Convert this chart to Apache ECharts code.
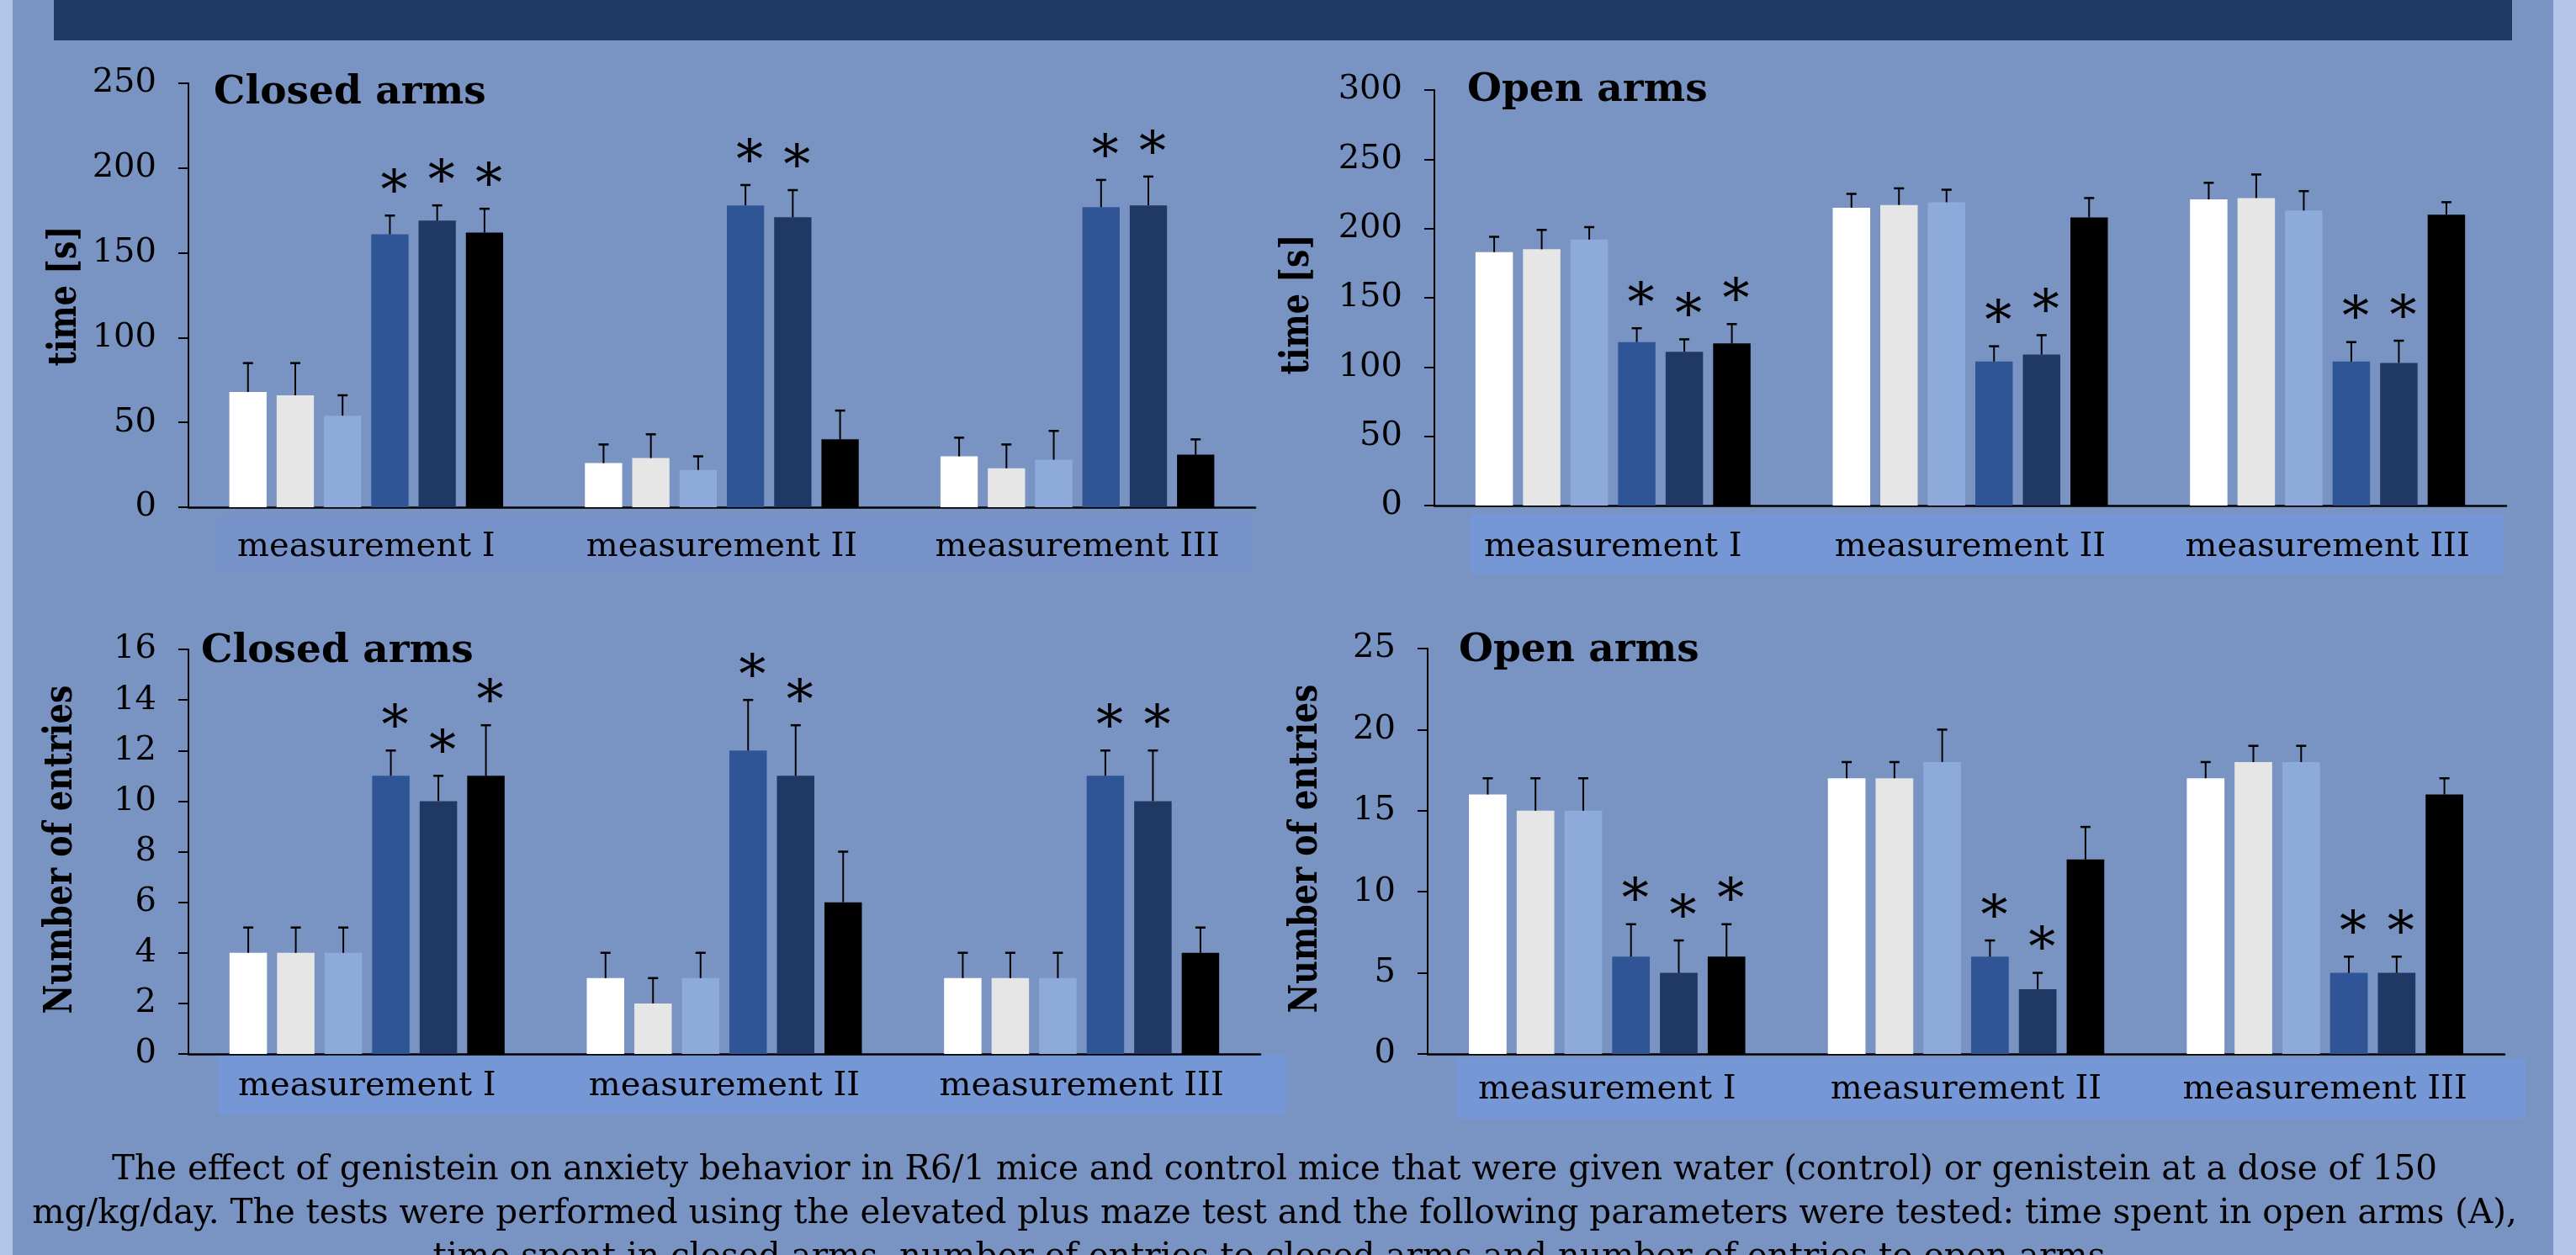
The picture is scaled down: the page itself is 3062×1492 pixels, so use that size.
<!DOCTYPE html>
<html>
<head>
<meta charset="utf-8">
<script src="https://cdn.jsdelivr.net/npm/echarts@6/dist/echarts.min.js"></script>
<style>
  html, body { margin: 0; padding: 0; background: #b4c6e8; }
  #chart { width: 3062px; height: 1492px; }
</style>
</head>
<body>
<div id="chart"></div>
<script>
// Elevated plus maze: six groups per measurement, mean with upward SEM bar.
const categories = ['measurement I', 'measurement II', 'measurement III'];
const groupColors = ['#ffffff', '#e6e6e6', '#8eaadb', '#2f5597', '#203864', '#000000'];

// rows = groups, columns = measurement I, II, III
const closedTimeMean = [[68, 26, 30], [66, 29, 23], [54, 22, 28], [161, 178, 177], [169, 171, 178], [162, 40, 31]];
const closedTimeErr  = [[17, 11, 11], [19, 14, 14], [12, 8, 17], [11, 12, 16], [9, 16, 17], [14, 17, 9]];

const openTimeMean = [[183, 215, 221], [185, 217, 222], [192, 219, 213], [118, 104, 104], [111, 109, 103], [117, 208, 210]];
const openTimeErr  = [[11, 10, 12], [14, 12, 17], [9, 9, 14], [10, 11, 14], [9, 14, 16], [14, 14, 9]];

const closedEntriesMean = [[4, 3, 3], [4, 2, 3], [4, 3, 3], [11, 12, 11], [10, 11, 10], [11, 6, 4]];
const closedEntriesErr  = [[1, 1, 1], [1, 1, 1], [1, 1, 1], [1, 2, 1], [1, 2, 2], [2, 2, 1]];

const openEntriesMean = [[16, 17, 17], [15, 17, 18], [15, 18, 18], [6, 6, 5], [5, 4, 5], [6, 12, 16]];
const openEntriesErr  = [[1, 1, 1], [2, 1, 1], [2, 2, 1], [2, 1, 1], [2, 1, 1], [2, 2, 1]];

// significance marks (1 = asterisk above the bar)
const significance = [[0, 0, 0], [0, 0, 0], [0, 0, 0], [1, 1, 1], [1, 1, 1], [1, 0, 0]];

const yTicksTime = { max: 250, interval: 50 };
const yTicksOpenTime = { max: 300, interval: 50 };
const yTicksClosedEntries = { max: 16, interval: 2 };
const yTicksOpenEntries = { max: 25, interval: 5 };

const captionLines = [
  'The effect of genistein on anxiety behavior in R6/1 mice and control mice that were given water (control) or genistein at a dose of 150',
  'mg/kg/day. The tests were performed using the elevated plus maze test and the following parameters were tested: time spent in open arms (A),',
  'time spent in closed arms, number of entries to closed arms and number of entries to open arms.'
];

const SERIF = '"DejaVu Serif", "Liberation Serif", serif';
const N_GROUPS = 6;
const BAR_GAP = 0.27;
const CAT_GAP = 0.23;

const panels = [
  { title: 'Closed arms', yName: 'time [s]', ticks: yTicksTime, mean: closedTimeMean, err: closedTimeErr,
    grid: { left: 224, top: 99, width: 1268, height: 504 }, titlePos: { left: 254, top: 87 },
    namePos: [78, 352], labelMargin: 28 },
  { title: 'Open arms', yName: 'time [s]', ticks: yTicksOpenTime, mean: openTimeMean, err: openTimeErr,
    grid: { left: 1705, top: 107, width: 1274, height: 494 }, titlePos: { left: 1744, top: 84 },
    namePos: [1543, 362], labelMargin: 30 },
  { title: 'Closed arms', yName: 'Number of entries', ticks: yTicksClosedEntries, mean: closedEntriesMean, err: closedEntriesErr,
    grid: { left: 224, top: 772, width: 1274, height: 481 }, titlePos: { left: 239, top: 751 },
    namePos: [73, 1010], labelMargin: 19 },
  { title: 'Open arms', yName: 'Number of entries', ticks: yTicksOpenEntries, mean: openEntriesMean, err: openEntriesErr,
    grid: { left: 1697, top: 771, width: 1280, height: 482 }, titlePos: { left: 1734, top: 750 },
    namePos: [1553, 1009], labelMargin: 23 }
];

function renderErrorBar(params, api) {
  const cat = api.value(0);
  const mean = api.value(1);
  const err = api.value(2);
  const g = api.value(3);
  const star = api.value(4);
  const band = api.size([1, 0])[0];
  const barW = band * (1 - CAT_GAP) / (N_GROUPS + (N_GROUPS - 1) * BAR_GAP);
  const x = api.coord([cat, 0])[0] + (g - (N_GROUPS - 1) / 2) * barW * (1 + BAR_GAP);
  const yBase = api.coord([cat, mean])[1];
  const yTop = api.coord([cat, mean + err])[1];
  const children = [
    { type: 'line', shape: { x1: x, y1: yBase, x2: x, y2: yTop }, style: { stroke: '#000', lineWidth: 2 } },
    { type: 'line', shape: { x1: x - 6, y1: yTop, x2: x + 6, y2: yTop }, style: { stroke: '#000', lineWidth: 2.5 } }
  ];
  if (star) {
    children.push({
      type: 'text', x: x + 5, y: yTop - 25,
      style: { text: '*', font: '64px ' + SERIF, fill: '#000', align: 'center', verticalAlign: 'middle' }
    });
  }
  return { type: 'group', children };
}

const grids = [], xAxes = [], yAxes = [], series = [], titles = [], axisNames = [];

panels.forEach((p, i) => {
  grids.push(Object.assign({ containLabel: false }, p.grid));
  titles.push({
    text: p.title, left: p.titlePos.left, top: p.titlePos.top, padding: 0,
    textStyle: { fontFamily: SERIF, fontWeight: 'bold', fontSize: 47, color: '#000' }
  });
  xAxes.push({
    gridIndex: i, type: 'category', data: categories,
    axisLine: { lineStyle: { color: '#000', width: 2.5 } },
    axisTick: { inside: true, length: 12, lineStyle: { color: '#000', width: 2 } },
    axisLabel: { interval: 0, color: '#000', fontFamily: SERIF, fontSize: 40, margin: p.labelMargin },
    splitLine: { show: false }
  });
  yAxes.push({
    gridIndex: i, type: 'value', min: 0, max: p.ticks.max, interval: p.ticks.interval,
    axisLine: { show: true, lineStyle: { color: '#000', width: 2 } },
    axisTick: { show: true, length: 12, lineStyle: { color: '#000', width: 2 } },
    axisLabel: { color: '#000', fontFamily: SERIF, fontSize: 40, margin: 38 },
    splitLine: { show: false }
  });
  // vertical axis title, drawn tall and heavy
  axisNames.push({
    type: 'text', x: p.namePos[0], y: p.namePos[1], rotation: Math.PI / 2, scaleX: 1, scaleY: 1.25, z: 10,
    style: { text: p.yName, font: 'bold 38px ' + SERIF, fill: '#000', align: 'center', verticalAlign: 'middle' }
  });
  for (let g = 0; g < N_GROUPS; g++) {
    series.push({
      type: 'bar', name: 'group ' + (g + 1), xAxisIndex: i, yAxisIndex: i,
      data: p.mean[g], barGap: (BAR_GAP * 100) + '%', barCategoryGap: (CAT_GAP * 100) + '%',
      itemStyle: { color: groupColors[g] }, silent: true, z: 2
    });
  }
  const errData = [];
  for (let g = 0; g < N_GROUPS; g++) {
    for (let m = 0; m < categories.length; m++) {
      errData.push([m, p.mean[g][m], p.err[g][m], g, significance[g][m]]);
    }
  }
  series.push({
    type: 'custom', xAxisIndex: i, yAxisIndex: i, renderItem: renderErrorBar,
    data: errData, silent: true, z: 5,
    encode: { x: 0, y: 1 }
  });
});

const graphics = [
  { type: 'rect', shape: { x: 15, y: 0, width: 3020, height: 1492 }, style: { fill: '#7994c3' }, z: -10 },
  { type: 'rect', shape: { x: 64, y: 0, width: 2922, height: 48 }, style: { fill: '#203864' }, z: -9 },
  // label bands under each category axis
  { type: 'rect', shape: { x: 258, y: 612, width: 1232, height: 71 }, style: { fill: '#7692c8' }, z: -9 },
  { type: 'rect', shape: { x: 1748, y: 612, width: 1228, height: 71 }, style: { fill: '#7597d5' }, z: -9 },
  { type: 'rect', shape: { x: 259, y: 1253, width: 1270, height: 72 }, style: { fill: '#7597d5' }, z: -9 },
  { type: 'rect', shape: { x: 1731, y: 1258, width: 1271, height: 72 }, style: { fill: '#7597d5' }, z: -9 },
  {
    type: 'text', x: 1515, y: 1365, z: 10,
    style: { text: captionLines.join('\n'), font: '40.5px ' + SERIF, fill: '#000', align: 'center', verticalAlign: 'top', lineHeight: 52 }
  }
].concat(axisNames);

const chart = echarts.init(document.getElementById('chart'), null, { renderer: 'canvas' });
chart.setOption({
  backgroundColor: '#b4c6e8',
  animation: false,
  title: titles,
  grid: grids,
  xAxis: xAxes,
  yAxis: yAxes,
  series: series,
  graphic: graphics
});
</script>
</body>
</html>
